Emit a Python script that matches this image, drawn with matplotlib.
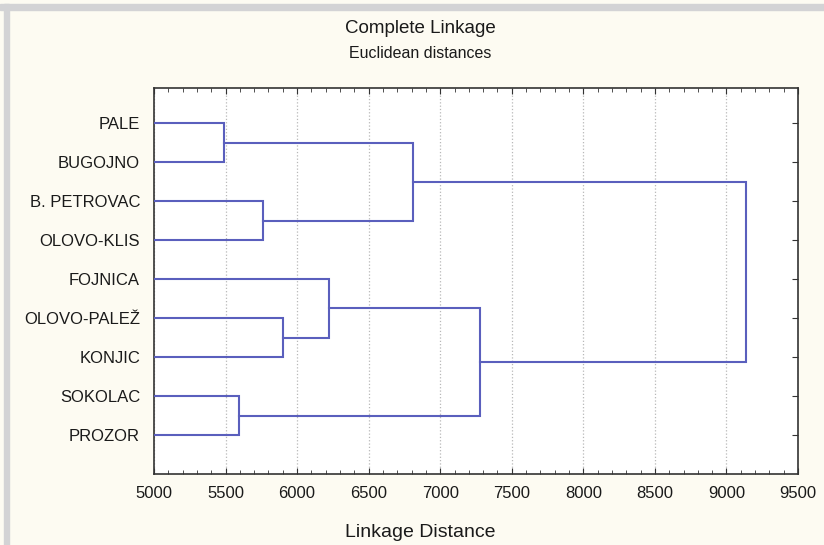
import matplotlib
matplotlib.use("Agg")
import matplotlib.pyplot as plt
from matplotlib.patches import Rectangle
from matplotlib.ticker import MultipleLocator

# leaves, top to bottom
leaves = ['PALE', 'BUGOJNO', 'B. PETROVAC', 'OLOVO-KLIS', 'FOJNICA',
          'OLOVO-PALEŽ', 'KONJIC', 'SOKOLAC', 'PROZOR']

# merges: (left cluster, right cluster, linkage distance); new cluster ids start at len(leaves)
merge_a = [0, 7, 2, 5, 4, 9, 13, 14]
merge_b = [1, 8, 3, 6, 12, 11, 10, 15]
merge_h = [5490, 5595, 5760, 5900, 6225, 6810, 7276, 9139]

x_ticks = [5000, 5500, 6000, 6500, 7000, 7500, 8000, 8500, 9000, 9500]

LINE = '#5a5fbd'
BG = '#fdfbf2'
TXT = '#1a1a1a'

plt.rcParams['font.family'] = 'Liberation Sans'

fig = plt.figure(figsize=(8.24, 5.45), dpi=100)
fig.patch.set_facecolor(BG)
# grey frame strips (top and left)
fig.patches.append(Rectangle((0, 1 - 10 / 545), 1, 6 / 545, transform=fig.transFigure,
                             color='#d3d3d5', zorder=0))
fig.patches.append(Rectangle((4 / 824, 0), 5 / 824, 1 - 4 / 545, transform=fig.transFigure,
                             color='#d3d3d5', zorder=0))

ax = fig.add_axes([154 / 824, 1 - 474 / 545, 644 / 824, 386 / 545])
ax.set_facecolor('white')

# position of every node: (height, y)
pos = {}
for i in range(len(leaves)):
    pos[i] = (0, i + 1)
for k in range(len(merge_h)):
    a, b, h = merge_a[k], merge_b[k], merge_h[k]
    ha, ya = pos[a]
    hb, yb = pos[b]
    ax.plot([ha, h, h, hb], [ya, ya, yb, yb], color=LINE, lw=1.5,
            solid_joinstyle='miter', zorder=3)
    pos[len(leaves) + k] = (h, (ya + yb) / 2)

ax.set_xlim(5000, 9500)
ax.set_ylim(10, 0.1)
ax.set_xticks(x_ticks)
ax.set_xticklabels([str(t) for t in x_ticks])
ax.xaxis.set_minor_locator(MultipleLocator(100))
ax.set_yticks(range(1, len(leaves) + 1))
ax.set_yticklabels(leaves)

ax.grid(axis='x', which='major', linestyle=':', color='#b8b8b8', lw=0.9, zorder=1)
ax.tick_params(axis='x', which='both', direction='in', top=True, bottom=True,
               labelsize=12, pad=9, colors='#333333', labelcolor=TXT)
ax.tick_params(axis='x', which='major', length=4)
ax.tick_params(axis='x', which='minor', length=3)
ax.tick_params(axis='y', direction='in', left=False, right=True, length=4,
               labelsize=12, pad=10, colors='#333333', labelcolor=TXT)
for s in ax.spines.values():
    s.set_color('#333333')
    s.set_linewidth(1.2)

fig.text(0.51, 1 - 33 / 545, 'Complete Linkage', ha='center', va='baseline',
         fontsize=13.5, color=TXT)
fig.text(0.51, 1 - 58 / 545, 'Euclidean distances', ha='center', va='baseline',
         fontsize=11.5, color=TXT)
fig.text(0.51, 1 - 537 / 545, 'Linkage Distance', ha='center', va='baseline',
         fontsize=14, color=TXT)

fig.savefig('out.png', dpi=100, facecolor=BG)
